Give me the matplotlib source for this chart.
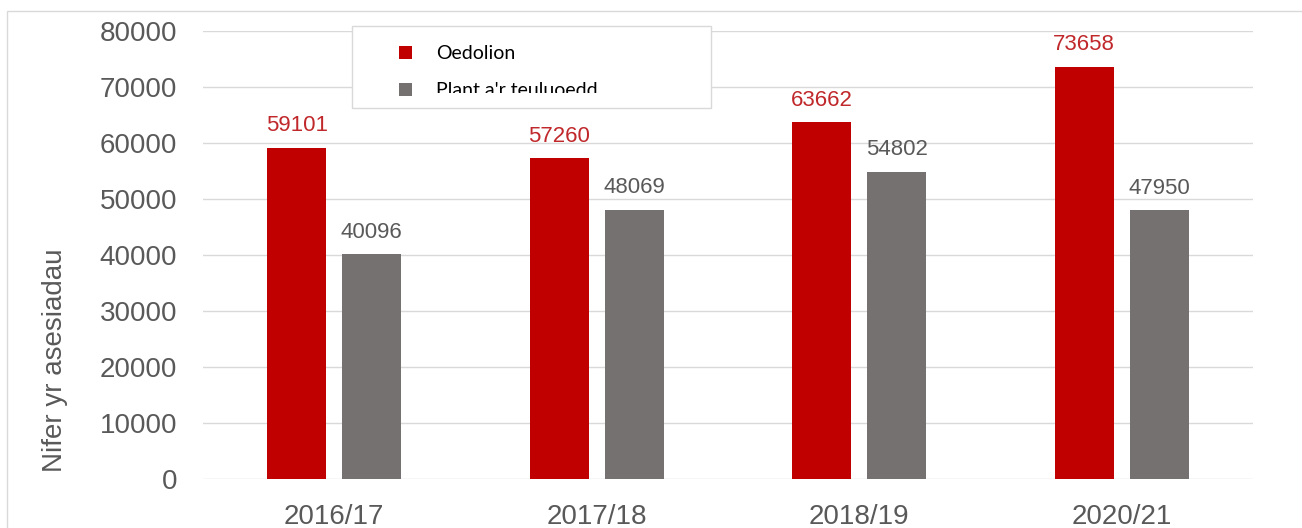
import numpy as np
import matplotlib.pyplot as plt
from matplotlib.patches import Rectangle
from matplotlib.transforms import Bbox

# Data
years = ['2016/17', '2017/18', '2018/19', '2020/21']
oedolion = [59101, 57260, 63662, 73658]
plant = [40096, 48069, 54802, 47950]
series_names = ['Oedolion', "Plant a'r teuluoedd"]

red = '#C00000'
grey = '#767171'
text_grey = '#595959'

plt.rcParams['font.family'] = ['Liberation Sans', 'DejaVu Sans']

W, H = 1302, 528
fig = plt.figure(figsize=(W / 100, H / 100), dpi=100)
ax = fig.add_axes([203 / W, 49 / H, 1050 / W, 448 / H])

x = np.arange(len(years))
w = 0.225
gap = 0.061
b1 = ax.bar(x - (w + gap) / 2, oedolion, w, color=red, label=series_names[0], zorder=3)
b2 = ax.bar(x + (w + gap) / 2, plant, w, color=grey, label=series_names[1], zorder=3)

ax.bar_label(b1, labels=[str(v) for v in oedolion], padding=8.5, color='#C0282B', fontsize=16)
ax.bar_label(b2, labels=[str(v) for v in plant], padding=8.5, color=text_grey, fontsize=16)

ax.set_xlim(-0.5, len(years) - 0.5)
ax.set_ylim(0, 80000)
ax.set_yticks(np.arange(0, 80001, 10000))
ax.set_xticks(x)
ax.set_xticklabels(years)
ax.tick_params(axis='both', length=0, labelsize=20, colors=text_grey)
ax.tick_params(axis='y', pad=18.5)
ax.tick_params(axis='x', pad=18)
ax.grid(axis='y', color='#D9D9D9', linewidth=1, zorder=0)
for s in ax.spines.values():
    s.set_visible(False)
ax.set_ylabel('Nifer yr asesiadau', fontsize=20, color=text_grey)
ax.yaxis.set_label_coords((68 - 203) / 1050, (479 - 360) / 448)

# legend: white box drawn separately, entries placed inside it
fig.patches.append(Rectangle((352 / W, 1 - 108 / H), 359 / W, 82 / H,
                             transform=fig.transFigure, facecolor='white',
                             edgecolor='#D9D9D9', linewidth=1, zorder=4))
fs = 14
px = fs * 100 / 72
leg = fig.legend(handles=[b1, b2], labels=series_names, loc='upper left',
                 bbox_to_anchor=(399 / W, 1 - 45 / H), frameon=False,
                 borderpad=0, borderaxespad=0, handlelength=13 / px, handleheight=13 / px,
                 handletextpad=24 / px, labelspacing=1.03,
                 prop={'family': ['Lato', 'DejaVu Sans'], 'size': fs})
leg.set_zorder(5)
# the second entry is cut at the bottom in the original
clip = Bbox.from_extents(352, H - 93, 711, H - 26)
for t in leg.get_texts():
    t.set_color('black')
    t.set_clip_on(True)
    t.set_clip_box(clip)

# outer chart-area border
fig.patches.append(Rectangle((7 / W, -0.1), 1.2, 1 - 11 / H + 0.1,
                             transform=fig.transFigure, fill=False,
                             edgecolor='#D9D9D9', linewidth=1))

fig.savefig('out.png', dpi=100)
